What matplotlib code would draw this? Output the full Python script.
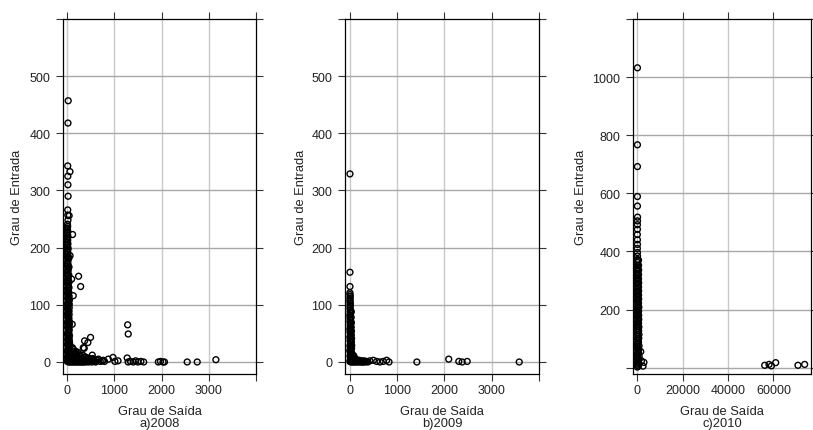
import numpy as np
import matplotlib.pyplot as plt

plt.rcParams['font.family'] = ['Liberation Sans', 'DejaVu Sans']

# ---- 2008: grau de saida (x) vs grau de entrada (y)
a_col_x = [3, 12, 20, 6, 15, 25, 2, 10, 18, 28, 5, 14, 22, 8, 16, 26, 4, 11, 19, 30,
           7, 13, 24, 3, 17, 27, 9, 21, 5, 14, 23, 6, 12, 20, 2, 18, 26, 8, 15, 22,
           4, 11, 19, 7, 25, 13, 3, 17, 9, 21, 6, 14, 2, 18, 10, 24, 5, 16, 8, 12,
           20, 4, 15, 7, 11, 3, 19, 9, 6, 14, 2, 10, 5, 13, 8, 4, 11, 6, 3, 9, 5]
a_col_y = [1, 3, 6, 9, 12, 15, 18, 21, 24, 27, 30, 33, 36, 39, 42, 45, 48, 51, 54, 57,
           60, 63, 66, 69, 72, 75, 78, 81, 84, 87, 90, 93, 96, 99, 102, 105, 108, 111, 114, 117,
           120, 123, 126, 129, 132, 135, 138, 141, 144, 147, 150, 153, 156, 159, 162, 165, 168, 171, 174, 177,
           180, 183, 186, 189, 192, 195, 198, 201, 204, 207, 210, 213, 216, 219, 222, 225, 228, 231, 234, 237, 241]
a_col2_x = [35, 42, 38, 48, 33, 45, 40, 36, 50, 44, 39, 47, 34, 41, 37, 46, 43, 35, 40, 38,
            42, 36, 45, 40, 33, 37, 39, 34, 37, 35]
a_col2_y = [2, 5, 9, 13, 17, 21, 25, 29, 33, 37, 41, 46, 51, 56, 61, 66, 71, 77, 83, 89,
            95, 101, 108, 115, 122, 130, 140, 152, 166, 182]
a_row_x = [30, 45, 60, 75, 90, 105, 120, 135, 150, 165, 180, 195, 210, 225, 240, 260, 280, 300,
           320, 340, 360, 385, 410, 440, 470, 500, 540, 580, 620, 660, 700, 740, 790,
           40, 70, 100, 130, 160, 190, 220, 250, 290, 330, 380, 430, 480, 560, 640, 60, 110, 170]
a_row_y = [2, 8, 4, 12, 1, 6, 10, 3, 14, 5, 1, 9, 3, 7, 2, 11, 4, 1, 6, 3,
           8, 2, 5, 1, 4, 2, 6, 1, 3, 5, 1, 2, 1,
           20, 18, 15, 22, 16, 13, 17, 14, 10, 12, 9, 7, 6, 4, 3, 28, 25, 19]
a_row2_x = [25, 55, 85, 115, 145, 175, 205, 235, 265, 295, 325, 355, 395, 35, 65, 95, 125, 155,
            185, 215, 275, 310, 345, 420, 455, 520, 600, 50, 80, 140]
a_row2_y = [0, 0, 0, 0, 0, 0, 0, 0, 0, 0, 0, 0, 0, 5, 4, 6, 3, 5,
            4, 2, 3, 2, 4, 1, 0, 0, 0, 10, 12, 8]
a_out_x = [20, 15, 10, 57, 12, 14, 18, 10, 12, 40, 15, 113, 60, 93, 240, 284, 127, 40, 105,
           340, 367, 437, 494, 360, 530, 760, 870, 970, 1010, 1075, 1280, 1292, 1270,
           1290, 1340, 1400, 1450, 1500, 1560, 1620, 1930, 1975, 2030, 2060, 2542, 2754, 3150]
a_out_y = [457, 418, 343, 333, 325, 310, 290, 266, 257, 256, 248, 223, 186, 145, 150, 132, 116, 101, 66,
           25, 37, 34, 43, 24, 12, 3, 5, 8, 1, 2, 65, 49, 7,
           0, 1, 0, 2, 0, 1, 0, 0, 1, 0, 0, 0, 0, 4]

# ---- 2009
b_col_x = [3, 12, 20, 6, 15, 25, 2, 10, 18, 5, 14, 22, 8, 16, 4, 11, 19, 7, 13, 3,
           17, 9, 21, 5, 14, 6, 12, 2, 18, 8, 15, 4, 11, 7, 13, 3, 9, 5, 10, 6, 4]
b_col_y = [1, 4, 7, 10, 13, 16, 19, 22, 25, 28, 31, 34, 37, 40, 43, 46, 49, 52, 55, 58,
           61, 64, 67, 70, 73, 76, 79, 82, 85, 88, 91, 94, 97, 100, 103, 106, 109, 112, 115, 118, 121]
b_col2_x = [32, 40, 36, 44, 30, 38, 42, 34, 39, 33, 37, 31, 35, 30, 33]
b_col2_y = [2, 6, 10, 14, 19, 24, 29, 35, 41, 47, 54, 61, 69, 78, 88]
b_row_x = [30, 45, 60, 75, 90, 105, 120, 140, 160, 180, 200, 220, 245, 270, 300, 330, 355,
           40, 70, 100, 130, 50, 85]
b_row_y = [2, 5, 1, 4, 2, 6, 1, 3, 2, 1, 3, 1, 2, 1, 2, 1, 1,
           9, 8, 7, 5, 14, 11]
b_row2_x = [25, 55, 85, 115, 150, 190, 230, 260, 290, 320, 35, 65, 95, 125, 170, 210, 380]
b_row2_y = [0, 0, 0, 0, 0, 0, 0, 0, 0, 0, 4, 3, 2, 4, 2, 1, 0]
b_out_x = [5, 5, 5, 425, 500, 570, 640, 710, 780, 830, 1419, 2092, 2305, 2376, 2482, 3582]
b_out_y = [329, 157, 132, 2, 3, 1, 0, 1, 3, 0, 0, 5, 1, 0, 1, 0]

# ---- 2010
c_col_x = [100, 300, 150, 400, 200, 350, 120, 250, 450, 180, 320, 90, 280, 420, 160, 380, 230, 130, 340, 210,
           110, 300, 170, 400, 260, 140, 360, 220, 100, 310, 190, 430, 240, 150, 330, 200, 120, 290, 180, 370,
           250, 110, 320, 160, 210, 130, 280, 190, 100, 240, 150, 200, 120, 170, 140, 110, 160, 130, 100, 150]
c_col_y = [2, 9, 16, 23, 30, 37, 44, 51, 58, 65, 72, 79, 86, 93, 100, 107, 114, 121, 128, 135,
           142, 149, 156, 163, 170, 177, 184, 191, 198, 205, 212, 219, 226, 233, 240, 247, 254, 261, 268, 275,
           282, 289, 296, 303, 310, 317, 324, 331, 338, 345, 352, 362, 372, 384, 396, 410, 424, 440, 458, 476]
c_col2_x = [600, 800, 700, 900, 650, 750, 850, 620, 720, 820, 680, 780, 640, 740, 700, 660, 760, 620, 700, 650,
            680, 640, 700, 620, 660, 680, 640, 620]
c_col2_y = [5, 14, 26, 38, 50, 62, 75, 88, 101, 114, 127, 140, 153, 166, 180, 194, 208, 222, 236, 250,
            264, 278, 292, 306, 320, 336, 352, 370]
c_out_x = [150, 150, 150, 150, 150, 200, 160, 140, 1600, 1900, 3000, 2600,
           56130, 58030, 59070, 60970, 70770, 73710]
c_out_y = [1032, 767, 692, 589, 556, 518, 505, 492, 55, 23, 18, 5,
           8, 11, 6, 17, 8, 11]

panels = [
    dict(x=a_col_x + a_col2_x + a_row_x + a_row2_x + a_out_x,
         y=a_col_y + a_col2_y + a_row_y + a_row2_y + a_out_y,
         pos=[63, 256], xlim=(-90, 4000), ylim=(-21, 600),
         xticks=[0, 1000, 2000, 3000, 4000], xlabels=['0', '1000', '2000', '3000', ''],
         yticks=[0, 100, 200, 300, 400, 500, 600], ylabels=['0', '100', '200', '300', '400', '500', ''],
         xgrid=[0, 1000, 2000, 3000], ygrid=[0, 100, 200, 300, 400, 500],
         ylab_x=-0.209, sub='a)2008'),
    dict(x=b_col_x + b_col2_x + b_row_x + b_row2_x + b_out_x,
         y=b_col_y + b_col2_y + b_row_y + b_row2_y + b_out_y,
         pos=[345, 539], xlim=(-100, 4000), ylim=(-21, 600),
         xticks=[0, 1000, 2000, 3000, 4000], xlabels=['0', '1000', '2000', '3000', ''],
         yticks=[0, 100, 200, 300, 400, 500, 600], ylabels=['0', '100', '200', '300', '400', '500', ''],
         xgrid=[0, 1000, 2000, 3000], ygrid=[0, 100, 200, 300, 400, 500],
         ylab_x=-0.197, sub='b)2009'),
    dict(x=c_col_x + c_col2_x + c_out_x, y=c_col_y + c_col2_y + c_out_y,
         pos=[633, 811], xlim=(-1800, 76500), ylim=(-22, 1200),
         xticks=[0, 20000, 40000, 60000], xlabels=['0', '20000', '40000', '60000'],
         yticks=[0, 200, 400, 600, 800, 1000, 1200], ylabels=['', '200', '400', '600', '800', '1000', ''],
         xgrid=[0, 20000, 40000, 60000], ygrid=[0, 200, 400, 600, 800, 1000],
         ylab_x=-0.258, sub='c)2010'),
]

W, H = 813, 431
fig = plt.figure(figsize=(W / 100, H / 100), dpi=100)

for p in panels:
    left, right = p['pos']
    top, bottom = 20, 375
    ax = fig.add_axes([left / W, (H - bottom) / H, (right - left) / W, (bottom - top) / H])
    for gx in p['xgrid']:
        ax.axvline(gx, color='#c8c8c8', lw=1.0, zorder=0)
    for gy in p['ygrid']:
        ax.axhline(gy, color='#a8a8a8', lw=1.0, zorder=0)
    ax.scatter(p['x'], p['y'], s=18, facecolors='none', edgecolors='black', linewidths=1.0, zorder=2)
    ax.set_xlim(*p['xlim'])
    ax.set_ylim(*p['ylim'])
    ax.set_xticks(p['xticks'])
    ax.set_xticklabels(p['xlabels'])
    ax.set_yticks(p['yticks'])
    ax.set_yticklabels(p['ylabels'])
    ax.tick_params(direction='out', length=5, width=0.8, color='#333333', labelsize=9,
                   labelcolor='#222222', top=True, right=True, pad=2.5)
    ax.tick_params(axis='y', pad=4)
    for s in ax.spines.values():
        s.set_linewidth(0.9)
    ax.set_ylabel('Grau de Entrada', fontsize=9.3, color='#222222')
    ax.yaxis.set_label_coords(p['ylab_x'], 0.5)
    ax.text(0.5, -0.104, 'Grau de Saída', transform=ax.transAxes, ha='center', va='center',
            fontsize=9.3, color='#222222')
    ax.text(0.5, -0.137, p['sub'], transform=ax.transAxes, ha='center', va='center',
            fontsize=9.3, color='#222222')

fig.savefig('out.png', dpi=100)
